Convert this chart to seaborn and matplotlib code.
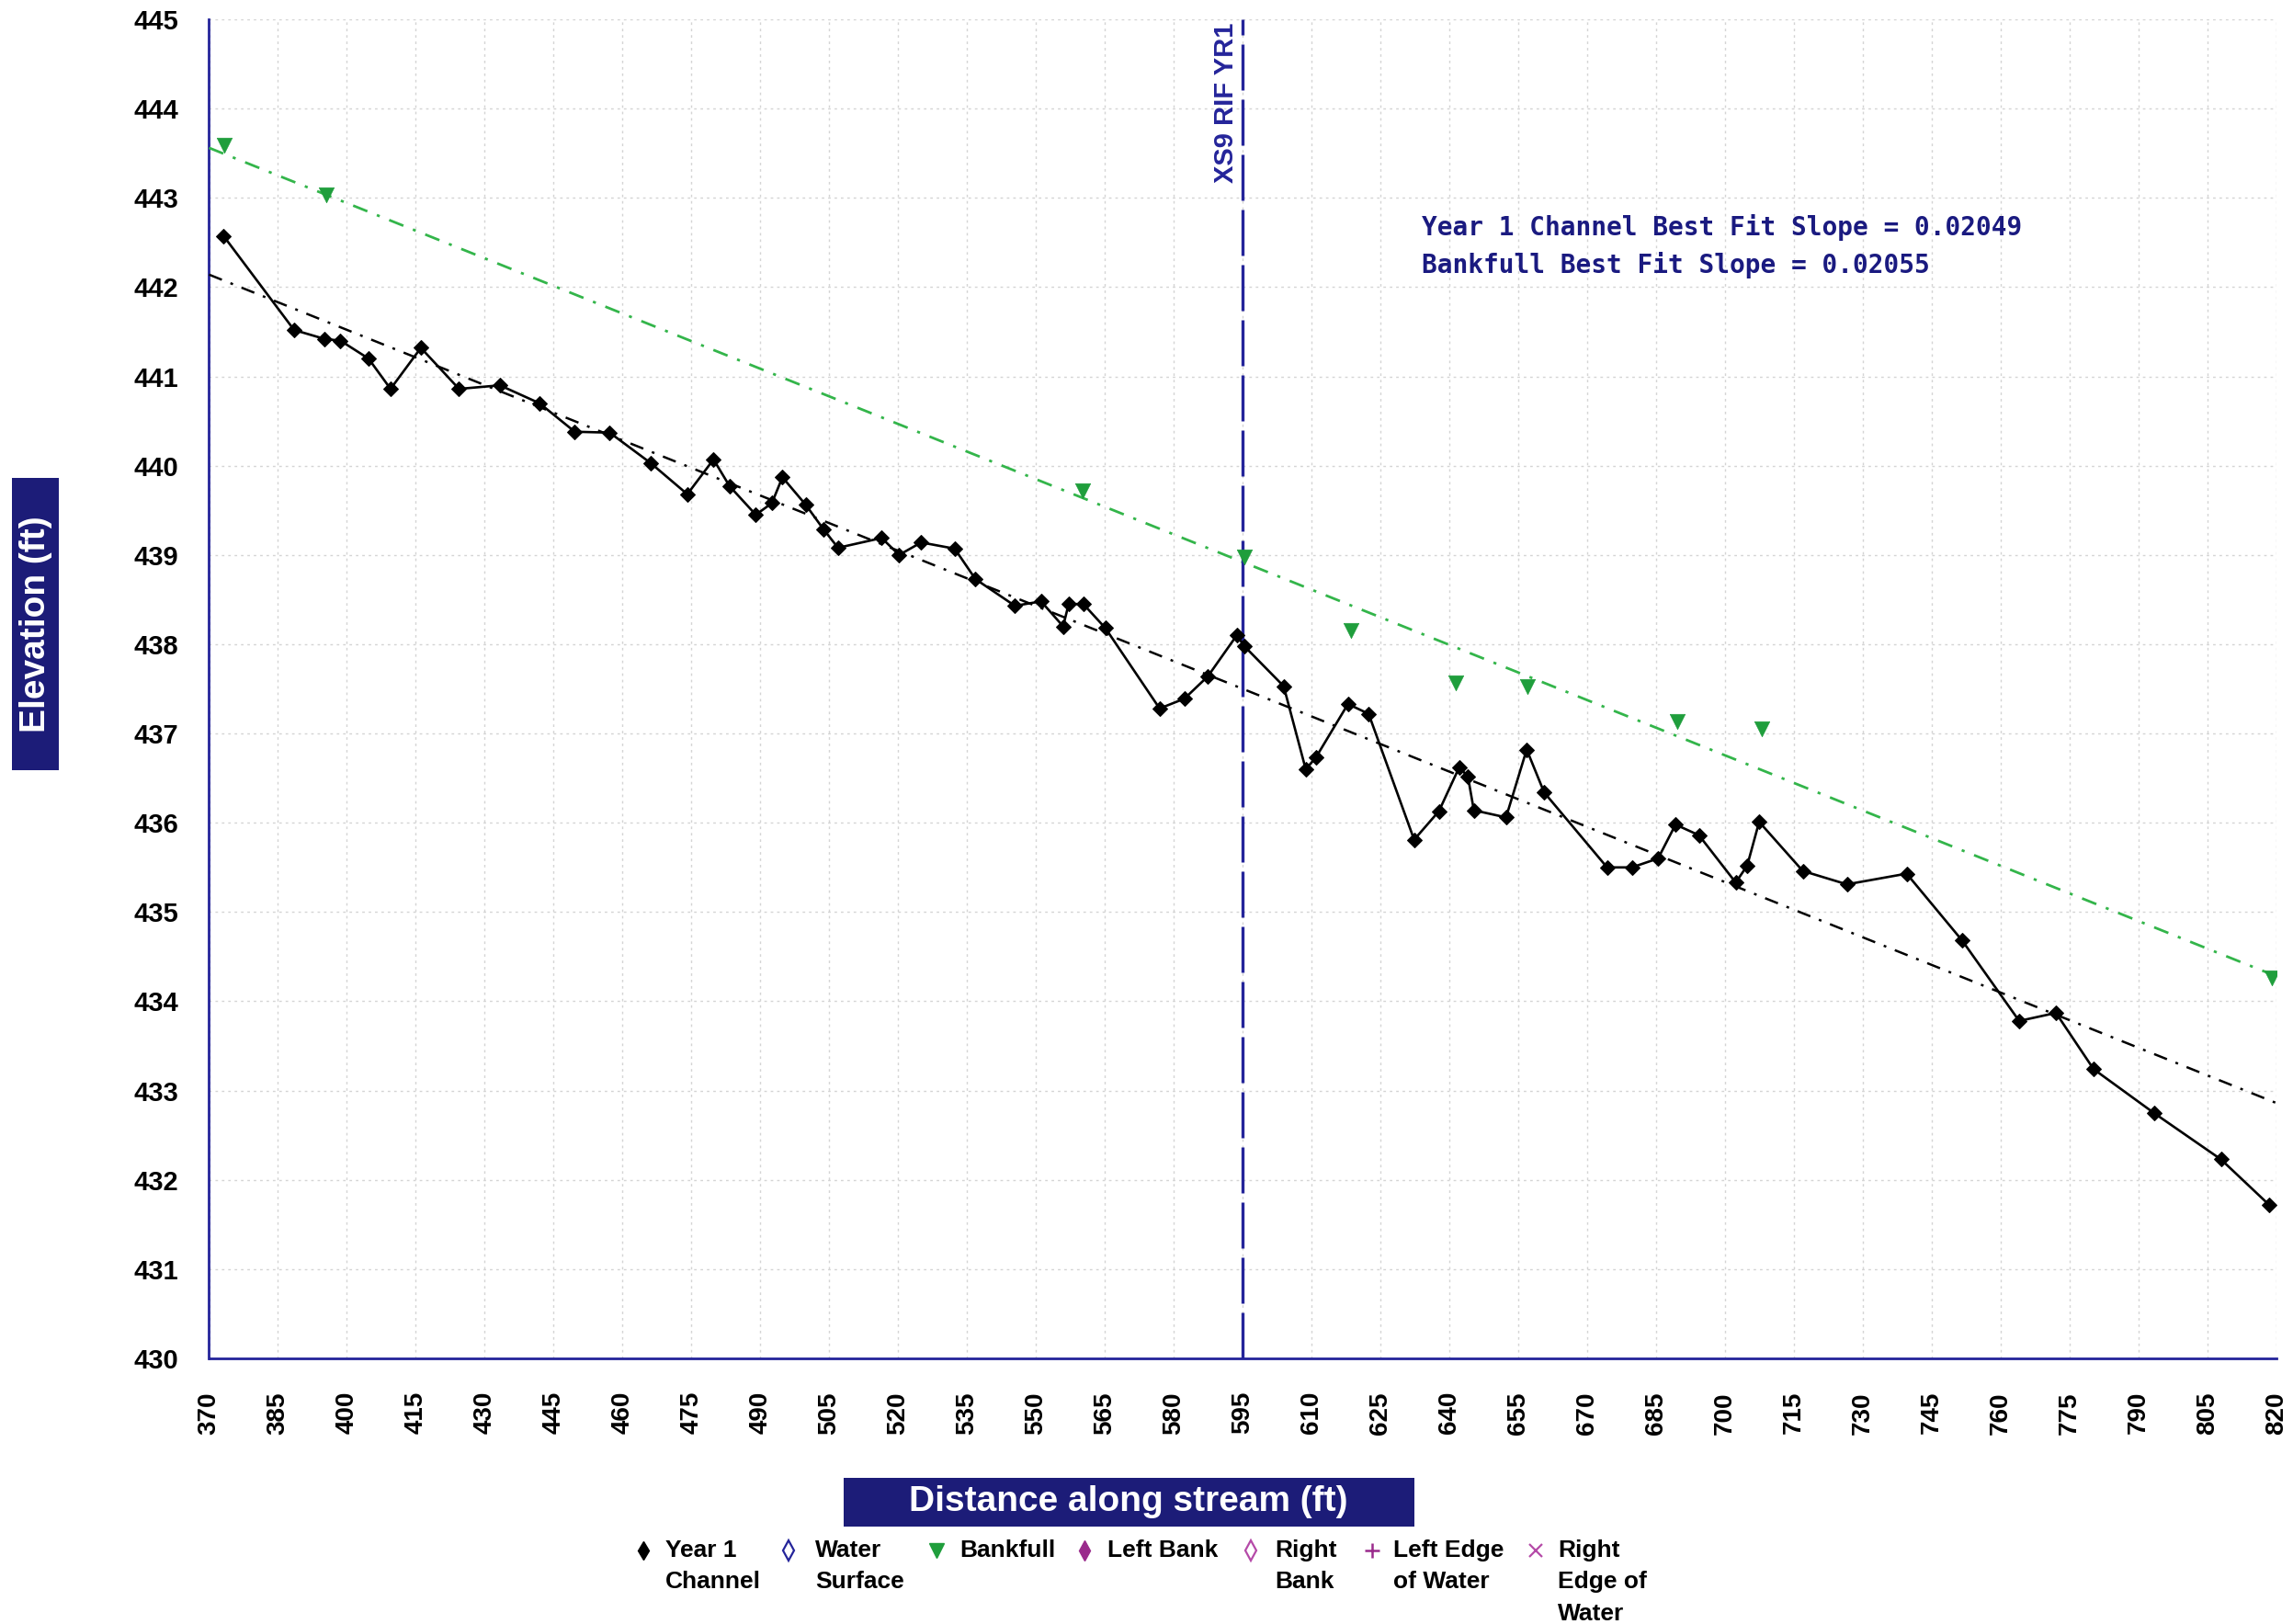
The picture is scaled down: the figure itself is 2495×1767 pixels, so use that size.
import numpy as np
import pandas as pd
import matplotlib
matplotlib.use("Agg")
import matplotlib.pyplot as plt
import seaborn as sns
from matplotlib.lines import Line2D
from matplotlib.patches import Rectangle
from matplotlib.ticker import MultipleLocator, FixedLocator

# ---------------- data ----------------
channel_x = [373.2, 388.5, 395.1, 398.6, 404.7, 409.5, 416.1, 424.4, 433.3, 441.9,
             449.6, 457.2, 466.1, 474.1, 479.8, 483.3, 489.0, 492.5, 494.8, 499.9,
             503.7, 506.9, 516.4, 520.2, 525.0, 532.3, 536.8, 545.4, 551.1, 555.9,
             557.1, 560.3, 565.1, 576.9, 582.3, 587.4, 593.7, 595.3, 603.9, 608.7,
             610.9, 617.9, 622.4, 632.3, 637.7, 642.1, 644.0, 645.3, 652.3, 656.8,
             660.6, 674.3, 679.7, 685.4, 689.2, 694.3, 702.3, 704.8, 707.4, 716.9,
             726.5, 739.5, 751.6, 764.0, 772.0, 780.2, 793.3, 807.9, 818.4]
channel_y = [442.57, 441.52, 441.42, 441.40, 441.20, 440.86, 441.32, 440.86, 440.90, 440.70,
             440.38, 440.37, 440.03, 439.68, 440.07, 439.77, 439.45, 439.58, 439.87, 439.56,
             439.29, 439.08, 439.19, 439.00, 439.14, 439.07, 438.73, 438.43, 438.48, 438.20,
             438.45, 438.45, 438.18, 437.28, 437.39, 437.64, 438.10, 437.98, 437.53, 436.60,
             436.73, 437.33, 437.22, 435.81, 436.13, 436.62, 436.52, 436.14, 436.06, 436.82,
             436.34, 435.50, 435.50, 435.60, 435.98, 435.86, 435.33, 435.52, 436.01, 435.46,
             435.31, 435.43, 434.68, 433.78, 433.87, 433.24, 432.75, 432.23, 431.72]

bankfull_x = [373.3, 395.5, 560.1, 595.4, 618.6, 641.3, 657.0, 689.5, 708.0, 818.9]
bankfull_y = [443.59, 443.03, 439.72, 438.98, 438.15, 437.57, 437.53, 437.13, 437.05, 434.26]

fit_x = [370, 820]
channel_fit_y = [442.14, 432.86]
bankfull_fit_y = [443.56, 434.28]

xs_station = 595
xs_label = "XS9 RIF YR1"

x_ticks = list(range(370, 821, 15))
y_ticks = list(range(430, 446))

slope_texts = ["Year 1 Channel Best Fit Slope = 0.02049",
               "Bankfull Best Fit Slope = 0.02055"]

legend_labels = ["Year 1\nChannel", "Water\nSurface", "Bankfull", "Left Bank",
                 "Right\nBank", "Left Edge\nof Water", "Right\nEdge of\nWater"]

x_label = "Distance along stream (ft)"
y_label = "Elevation (ft)"

# ---------------- style ----------------
NAVY = "#24249a"
BOX = "#1c1c78"
TEXT_NAVY = "#1a1a80"
GREEN_M = "#1f9e3c"
GREEN_L = "#33b54a"
PURPLE = "#9a2b8c"
PURPLE_L = "#b54aa8"

sns.set_theme(style="white")
plt.rcParams["font.family"] = ["Liberation Sans", "DejaVu Sans"]

W, H = 2495, 1767
fig = plt.figure(figsize=(W / 100, H / 100), dpi=100)
L, R, T, B = 227.5, 2477, 21, 1478
ax = fig.add_axes([L / W, 1 - B / H, (R - L) / W, (B - T) / H])

ch = pd.DataFrame({"x": channel_x, "y": channel_y})
bf = pd.DataFrame({"x": bankfull_x, "y": bankfull_y})
cf = pd.DataFrame({"x": fit_x, "y": channel_fit_y})
bff = pd.DataFrame({"x": fit_x, "y": bankfull_fit_y})

# fit lines
sns.lineplot(data=bff, x="x", y="y", ax=ax, color=GREEN_L, lw=2.0,
             linestyle=(0, (6, 4, 1.2, 4)), estimator=None, sort=False, zorder=3)
sns.lineplot(data=cf, x="x", y="y", ax=ax, color="black", lw=1.8,
             linestyle=(0, (6, 4, 1.2, 4)), estimator=None, sort=False, zorder=3)

# cross-section marker line
ax.axvline(xs_station, color=NAVY, lw=2.4, linestyle=(0, (15, 3)), zorder=4)
ax.annotate(xs_label, xy=(xs_station, 445), xycoords="data",
            xytext=(-4, -4), textcoords="offset pixels",
            rotation=90, ha="right", va="top", color=NAVY,
            fontsize=21, fontweight="heavy")

# channel profile
sns.lineplot(data=ch, x="x", y="y", ax=ax, color="black", lw=1.9, marker="D",
             markersize=8.5, markeredgecolor="black", markerfacecolor="black",
             estimator=None, sort=False, zorder=5)

# bankfull points
sns.scatterplot(data=bf, x="x", y="y", ax=ax, marker="v", s=140, color=GREEN_M,
                edgecolor=GREEN_M, linewidth=0.5, zorder=6)

# slope annotation
ax.text(634.0, 442.67, slope_texts[0], color=TEXT_NAVY, fontsize=20,
        fontweight="bold", family="DejaVu Sans Mono", ha="left", va="center")
ax.text(634.0, 442.25, slope_texts[1], color=TEXT_NAVY, fontsize=20,
        fontweight="bold", family="DejaVu Sans Mono", ha="left", va="center")

# axes
ax.set_xlim(370, 820)
ax.set_ylim(430, 445)
ax.xaxis.set_major_locator(FixedLocator(x_ticks))
ax.yaxis.set_major_locator(FixedLocator(y_ticks))
ax.xaxis.set_minor_locator(MultipleLocator(5))
ax.yaxis.set_minor_locator(MultipleLocator(0.2))
ax.set_xticklabels([str(v) for v in x_ticks], rotation=90, fontsize=20,
                   fontweight="bold", color="black")
ax.set_yticklabels([str(v) for v in y_ticks], fontsize=21, fontweight="bold",
                   color="black")
ax.tick_params(axis="both", which="major", direction="out", length=22,
               width=1.6, color=NAVY)
ax.tick_params(axis="both", which="minor", direction="out", length=11,
               width=1.6, color=NAVY)
ax.tick_params(axis="x", which="major", pad=4)
ax.tick_params(axis="y", which="major", pad=2)
ax.set_xlabel("")
ax.set_ylabel("")

ax.grid(True, which="major", color="#d4d4d4", linestyle=(0, (2, 3)), lw=1.0)
for s in ["top", "right"]:
    ax.spines[s].set_visible(False)
for s in ["left", "bottom"]:
    ax.spines[s].set_color(NAVY)
    ax.spines[s].set_linewidth(2.0)

# axis-title boxes
fig.patches.append(Rectangle((918 / W, 1 - 1661 / H), 621 / W, 53 / H,
                             transform=fig.transFigure, facecolor=BOX,
                             edgecolor="none", zorder=1))
fig.text(1228 / W, 1 - 1634 / H, x_label, color="white", fontsize=28,
         fontweight="bold", ha="center", va="center", zorder=2)
fig.patches.append(Rectangle((13 / W, 1 - 838 / H), 51 / W, 318 / H,
                             transform=fig.transFigure, facecolor=BOX,
                             edgecolor="none", zorder=1))
fig.text(39 / W, 1 - 679 / H, y_label, color="white", fontsize=28,
         fontweight="bold", ha="center", va="center", rotation=90, zorder=2)

# legend (manual row)
marker_x = [700, 858, 1019, 1180, 1361, 1493, 1671]
text_x = [724, 887, 1044, 1205, 1387, 1516, 1695]
styles = [
    dict(marker="d", color="black", mfc="black", ms=10),
    dict(marker="d", color=NAVY, mfc="none", ms=11, mew=1.6),
    dict(marker="v", color=GREEN_M, mfc=GREEN_M, ms=11),
    dict(marker="d", color=PURPLE, mfc=PURPLE, ms=11),
    dict(marker="d", color=PURPLE_L, mfc="none", ms=11, mew=1.6),
    dict(marker="+", color=PURPLE, ms=12, mew=1.8),
    dict(marker="x", color=PURPLE_L, ms=10, mew=1.6),
]
leg_y = 1687
for mx, tx, lab, st in zip(marker_x, text_x, legend_labels, styles):
    fig.add_artist(Line2D([mx / W], [1 - leg_y / H], transform=fig.transFigure,
                          linestyle="none", **st))
    fig.text(tx / W, 1 - (leg_y - 12) / H, lab, fontsize=19, fontweight="bold",
             color="black", ha="left", va="top", linespacing=1.55)

fig.savefig("out.png", dpi=100, facecolor="white")
